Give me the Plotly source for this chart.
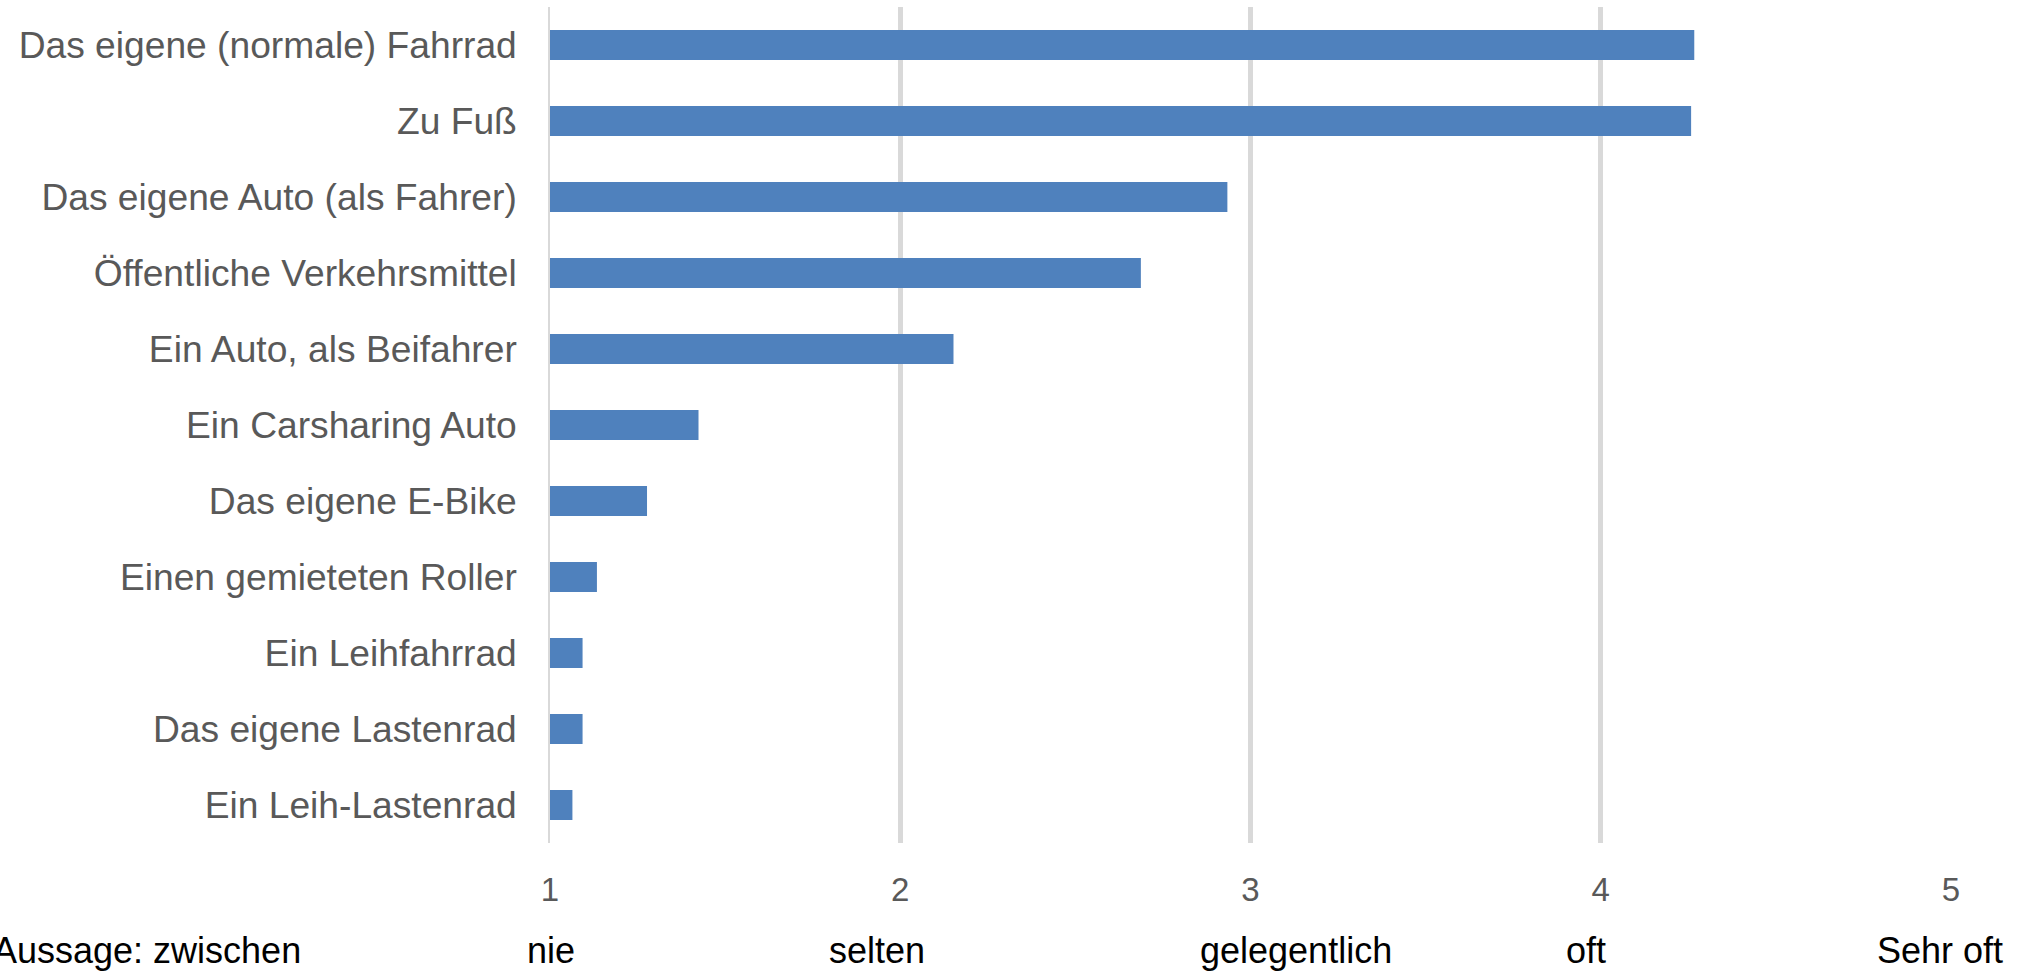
import plotly.graph_objects as go

categories = [
    "Das eigene (normale) Fahrrad",
    "Zu Fuß",
    "Das eigene Auto (als Fahrer)",
    "Öffentliche Verkehrsmittel",
    "Ein Auto, als Beifahrer",
    "Ein Carsharing Auto",
    "Das eigene E-Bike",
    "Einen gemieteten Roller",
    "Ein Leihfahrrad",
    "Das eigene Lastenrad",
    "Ein Leih-Lastenrad",
]
values = [4.267, 4.258, 2.934, 2.687, 2.152, 1.424, 1.277, 1.134, 1.093, 1.093, 1.064]

tick_vals = [1, 2, 3, 4, 5]
tick_text = ["1", "2", "3", "4", "5"]

scale_labels = ["nie", "selten", "gelegentlich", "oft", "Sehr oft"]
scale_label_x = [1.004, 1.933, 3.13, 3.958, 4.968]

FONT = "Liberation Sans, Arial, sans-serif"

fig = go.Figure(
    go.Bar(
        x=values,
        y=categories,
        orientation="h",
        marker=dict(color="#4f81bd", line=dict(width=0)),
    )
)

fig.update_layout(
    width=2023,
    height=973,
    margin=dict(l=549.5, r=72, t=7, b=130),
    paper_bgcolor="white",
    plot_bgcolor="white",
    bargap=0.604,
    showlegend=False,
    font=dict(family=FONT),
)

fig.update_xaxes(
    range=[1, 5],
    tickmode="array",
    tickvals=tick_vals,
    ticktext=tick_text,
    showgrid=True,
    gridcolor="#d9d9d9",
    gridwidth=4.5,
    zeroline=False,
    showline=False,
    ticks="",
    ticklabelstandoff=24,
    tickfont=dict(size=33, color="#595959", family=FONT),
)
fig.update_yaxes(
    autorange="reversed",
    showgrid=False,
    showline=True,
    linecolor="#d9d9d9",
    linewidth=1.5,
    ticks="",
    ticklabelstandoff=24,
    tickfont=dict(size=37.2, color="#595959", family=FONT),
)

for lbl, xv in zip(scale_labels, scale_label_x):
    fig.add_annotation(
        x=xv, xref="x",
        y=-0.129, yref="paper",
        text=lbl,
        showarrow=False,
        xanchor="center",
        yanchor="middle",
        font=dict(size=36, color="#000000", family=FONT),
    )

fig.add_annotation(
    x=-0.1766, xref="paper",
    y=-0.129, yref="paper",
    text="Aussage: zwischen",
    showarrow=False,
    xanchor="right",
    yanchor="middle",
    font=dict(size=36, color="#000000", family=FONT),
)

fig.write_html("out.html")
